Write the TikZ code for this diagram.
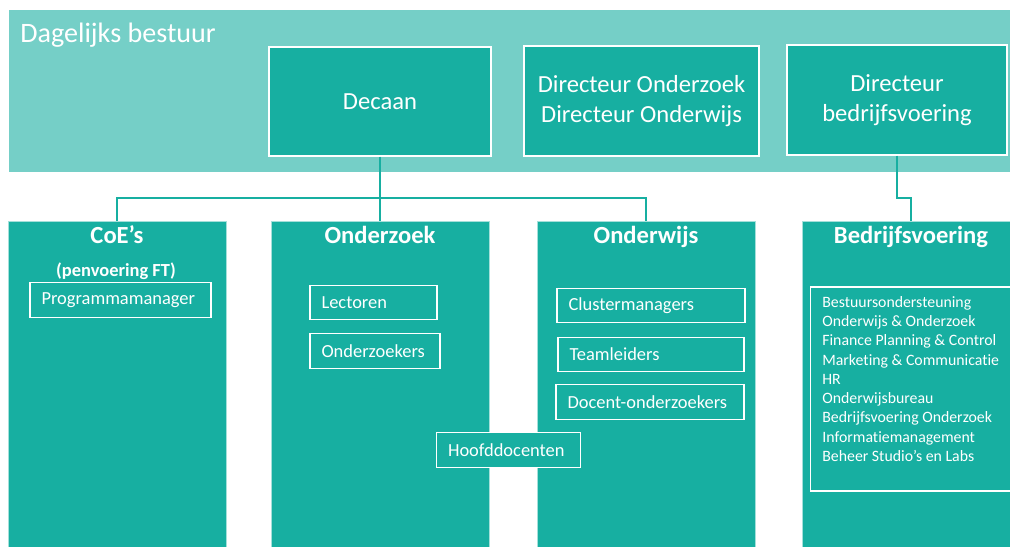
\documentclass[tikz,border=0pt]{standalone}
\usepackage{fontspec}
\setmainfont{Carlito}[Ligatures=NoCommon]

\definecolor{bandkleur}{HTML}{75CFC7}
\definecolor{vakkleur}{HTML}{17AFA1}
\definecolor{randkleur}{HTML}{A4E0DA}

\begin{document}
\begin{tikzpicture}[x=0.02cm, y=-0.02cm,
		topvak/.style={draw=white, line width=0.8pt, fill=vakkleur, text=white, align=center, inner sep=0pt, font=\fontsize{14}{17}\selectfont},
		afdeling/.style={draw=randkleur, line width=0.5pt, fill=vakkleur, minimum width=4.36cm, minimum height=6.6cm, inner sep=0pt},
		kop/.style={text=white, anchor=base, inner sep=0pt, font=\bfseries\fontsize{14}{17}\selectfont},
		functie/.style={draw=white, line width=0.8pt, fill=vakkleur, text=white, align=left, inner xsep=0.23cm, inner ysep=0pt, minimum height=0.69cm, font=\fontsize{10.5}{12.5}\selectfont},
		lijn/.style={draw=vakkleur, line width=1.1pt}]

				\useasboundingbox (0, 0) rectangle (1010, 547);
				\fill [white] (0, 0) rectangle (1010, 547);

				% dagelijks bestuur
				\fill [bandkleur] (9, 10) rectangle (1012, 172);
				\node [anchor=base west, inner sep=0pt, text=white, font=\fontsize{16}{19}\selectfont] (dagelijks) at (20, 43) {Dagelijks bestuur};

				\node [topvak, minimum width=4.44cm, minimum height=2.18cm] (decaan) at (380, 101.5) {Decaan};
				\node [topvak, minimum width=4.70cm, minimum height=2.20cm] (directeuren) at (641.5, 101) {Directeur Onderzoek\\Directeur Onderwijs};
				\node [topvak, minimum width=4.40cm, minimum height=2.20cm] (bedrijfsdir) at (897, 100) {Directeur\\bedrijfsvoering};

				%------
				\node [afdeling] (coe) at (117, 386) {};
				\node [afdeling] (onderzoek) at (380, 386) {};
				\node [afdeling] (onderwijs) at (646, 386) {};
				\node [afdeling] (bedrijf) at (911, 386) {};

				\node [kop] (coekop) at (117, 243) {CoE’s};
				\node [kop] (onderzoekkop) at (380, 243) {Onderzoek};
				\node [kop] (onderwijskop) at (646, 243) {Onderwijs};
				\node [kop] (bedrijfkop) at (911, 243) {Bedrijfsvoering};

				\node [kop, font=\bfseries\fontsize{10.5}{12.5}\selectfont] (penvoering) at (116, 276) {(penvoering FT)};

				%------
				\node [functie, text width=3.16cm] (programma) at (120.5, 300) {Programmamanager};
				\node [functie, text width=2.08cm] (lectoren) at (373.5, 302.5) {Lectoren};
				\node [functie, text width=2.14cm] (onderzoekers) at (375, 351) {Onderzoekers};
				\node [functie, text width=3.30cm] (cluster) at (651, 305.5) {Clustermanagers};
				\node [functie, text width=3.26cm] (teamleiders) at (651, 354.5) {Teamleiders};
				\node [functie, text width=3.30cm] (docent) at (650, 402) {Docent-onderzoekers};
				\node [functie, text width=2.42cm] (hoofd) at (508.5, 450) {Hoofddocenten};

				\node [draw=white, line width=0.8pt, minimum width=4.10cm, minimum height=4.08cm] (takenkader) at (913, 389) {};
				\node [anchor=north west, inner sep=0pt, text=white, align=left, font=\fontsize{9}{10.95}\selectfont] (taken) at (822, 296) {Bestuursondersteuning\\Onderwijs \& Onderzoek\\Finance Planning \& Control\\Marketing \& Communicatie\\HR\\Onderwijsbureau\\Bedrijfsvoering Onderzoek\\Informatiemanagement\\Beheer Studio’s en Labs};

				% verbindingen
				\draw [lijn] (decaan.south) -- ++(0, 41) coordinate (splitsing);
				\draw [lijn] (splitsing) -| (coe.north);
				\draw [lijn] (splitsing) -- (onderzoek.north);
				\draw [lijn] (splitsing) -| (onderwijs.north);
				\draw [lijn] (bedrijfsdir.south) -- ++(0, 42) -| (bedrijf.north);
		\end{tikzpicture}
\end{document}
